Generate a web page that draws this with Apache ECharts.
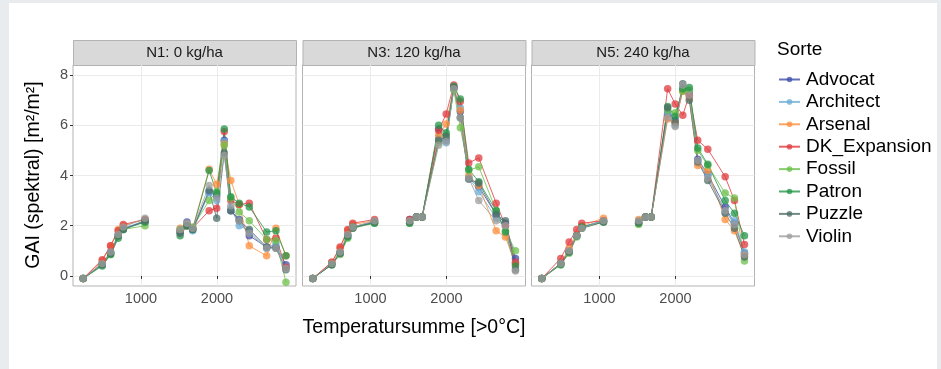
<!DOCTYPE html>
<html>
<head>
<meta charset="utf-8">
<script src="https://cdn.jsdelivr.net/npm/echarts@6/dist/echarts.min.js"></script>
<style>
  html, body { margin: 0; padding: 0; background: #e9ecef; }
  #sheet { position: absolute; left: 9px; top: 3px; width: 928px; height: 366px; background: #fff; }
  #chart { position: absolute; left: 0; top: 0; width: 941px; height: 369px; }
</style>
</head>
<body>
<div id="sheet"></div>
<div id="chart"></div>
<script>
// Temperatursumme der Termine
const tempSum = [240, 490, 600, 700, 767, 1053, 1515, 1605, 1680, 1897, 1996, 2096, 2182, 2293, 2425, 2654, 2776, 2908];
const sorten = ["Advocat", "Architect", "Arsenal", "DK_Expansion", "Fossil", "Patron", "Puzzle", "Violin"];
const colors = ["#3f4fa8", "#6baed6", "#fd8d3c", "#e0393e", "#6cc04a", "#24964a", "#4f6d68", "#9e9e9e"];
const panels = ["N1: 0 kg/ha", "N3: 120 kg/ha", "N5: 240 kg/ha"];
const xTicks = [1000, 2000];
const yTicks = [0, 2, 4, 6, 8];

// GAI-Werte je Stickstoffstufe, Reihenfolge wie sorten
const gaiN1 = [
  [-0.1, 0.5, 0.95, 1.6, 1.9, 2.15, 1.75, 2.15, 1.85, 3.35, 3.2, 5.4, 2.6, 2.25, 1.6, 1.15, 1.15, 0.45],
  [-0.1, 0.5, 0.9, 1.65, 1.9, 2.2, 1.8, 2.05, 1.8, 3.3, 3.0, 5.35, 2.7, 2.0, 1.8, 1.1, 1.3, 0.35],
  [-0.1, 0.6, 1.2, 1.85, 2.0, 2.25, 1.9, 2.05, 1.9, 4.25, 3.65, 5.25, 3.8, 2.85, 1.2, 0.8, 1.9, 0.8],
  [-0.1, 0.65, 1.2, 1.8, 2.05, 2.25, 1.8, 2.0, 1.9, 2.6, 2.7, 5.75, 3.0, 2.85, 2.9, 1.45, 1.5, 0.35],
  [-0.1, 0.45, 0.85, 1.6, 1.85, 2.0, 1.85, 2.0, 1.95, 3.0, 3.35, 5.2, 3.1, 2.55, 2.2, 1.45, 1.4, -0.25],
  [-0.1, 0.4, 0.85, 1.5, 1.85, 2.15, 1.6, 2.0, 1.85, 4.2, 3.3, 5.85, 3.15, 2.9, 2.75, 1.75, 1.8, 0.8],
  [-0.1, 0.45, 0.9, 1.6, 1.85, 2.2, 1.7, 2.0, 1.85, 3.4, 2.3, 4.9, 2.6, 2.2, 1.85, 1.15, 1.1, 0.25],
  [-0.1, 0.5, 0.95, 1.65, 1.95, 2.3, 1.85, 2.1, 1.9, 3.6, 3.1, 4.8, 2.8, 2.2, 1.7, 1.1, 1.1, 0.3]
];
const gaiN3 = [
  [-0.1, 0.5, 0.95, 1.65, 1.95, 2.15, 2.25, 2.35, 2.35, 5.85, 5.4, 7.5, 6.55, 3.9, 3.55, 2.45, 2.1, 0.7],
  [-0.1, 0.5, 0.9, 1.6, 1.95, 2.15, 2.2, 2.35, 2.35, 5.5, 5.3, 7.45, 6.7, 3.9, 3.35, 2.3, 2.0, 0.5],
  [-0.1, 0.55, 1.1, 1.8, 2.05, 2.2, 2.2, 2.35, 2.35, 5.6, 6.05, 7.5, 6.6, 4.0, 3.6, 1.8, 1.55, 0.45],
  [-0.1, 0.55, 1.15, 1.85, 2.1, 2.25, 2.25, 2.35, 2.35, 5.8, 6.45, 7.6, 6.95, 4.5, 4.7, 2.9, 2.0, 0.55],
  [-0.1, 0.45, 0.85, 1.5, 1.9, 2.1, 2.1, 2.35, 2.35, 5.3, 5.6, 7.4, 5.9, 4.2, 4.35, 2.6, 1.8, 1.0],
  [-0.1, 0.45, 0.9, 1.55, 1.95, 2.1, 2.1, 2.35, 2.35, 6.0, 5.7, 7.55, 7.05, 4.25, 3.75, 2.6, 1.75, 0.4],
  [-0.1, 0.45, 0.9, 1.6, 1.9, 2.15, 2.15, 2.35, 2.35, 5.4, 5.55, 7.5, 6.3, 3.85, 3.7, 2.45, 2.2, 0.25],
  [-0.1, 0.5, 0.95, 1.65, 1.95, 2.2, 2.2, 2.35, 2.35, 5.2, 5.35, 7.45, 6.3, 3.9, 3.0, 2.2, 2.0, 0.2]
];
const gaiN5 = [
  [-0.1, 0.5, 1.0, 1.6, 1.95, 2.2, 2.15, 2.35, 2.35, 6.45, 6.2, 7.4, 7.3, 4.65, 4.05, 2.75, 2.1, 0.9],
  [-0.1, 0.5, 1.0, 1.6, 1.95, 2.2, 2.2, 2.35, 2.35, 6.5, 6.0, 7.45, 7.35, 4.5, 4.0, 2.55, 2.2, 0.95],
  [-0.1, 0.5, 1.1, 1.65, 2.0, 2.3, 2.25, 2.35, 2.35, 6.25, 6.1, 7.35, 7.1, 4.4, 4.2, 2.25, 1.8, 0.8],
  [-0.1, 0.7, 1.35, 1.85, 2.1, 2.2, 2.1, 2.35, 2.35, 7.45, 6.85, 6.4, 7.2, 5.4, 5.05, 3.95, 3.0, 1.25],
  [-0.1, 0.45, 0.9, 1.55, 1.9, 2.15, 2.05, 2.35, 2.35, 6.6, 6.5, 7.35, 7.4, 5.0, 4.4, 3.3, 3.1, 0.6],
  [-0.1, 0.45, 0.95, 1.6, 1.95, 2.15, 2.1, 2.35, 2.35, 6.75, 6.35, 7.45, 7.5, 5.1, 4.45, 3.0, 2.5, 1.6],
  [-0.1, 0.5, 0.95, 1.6, 1.9, 2.15, 2.15, 2.35, 2.35, 6.7, 6.1, 7.65, 7.0, 4.55, 3.8, 2.5, 1.9, 0.75],
  [-0.1, 0.5, 1.0, 1.6, 1.9, 2.2, 2.2, 2.35, 2.35, 6.3, 5.95, 7.6, 7.2, 4.6, 3.9, 2.6, 2.05, 0.85]
];
const gaiAll = [gaiN1, gaiN3, gaiN5];

const chart = echarts.init(document.getElementById("chart"));

// Panel-Geometrie
const gridLeft = [73, 302.5, 531.5];
const gridWidth = 223;
const gridTop = 65;
const gridHeight = 221;
const stripH = 25;

const grids = [], xAxes = [], yAxes = [], series = [], graphics = [];
panels.forEach((title, p) => {
  grids.push({
    left: gridLeft[p], top: gridTop, width: gridWidth, height: gridHeight,
    show: true, borderColor: "#b3b3b3", borderWidth: 1, backgroundColor: "transparent"
  });
  xAxes.push({
    type: "value", gridIndex: p, min: 105, max: 3040,
    axisLine: { show: false },
    axisTick: { show: true, length: 3, lineStyle: { color: "#333" }, customValues: xTicks },
    axisLabel: { color: "#4d4d4d", fontSize: 14.5, fontFamily: "Liberation Sans", margin: 5,
      customValues: xTicks, formatter: (v) => String(v) },
    splitLine: { show: true, lineStyle: { color: "#ebebeb", width: 1 } }
  });
  yAxes.push({
    type: "value", gridIndex: p, min: -0.4, max: 8.4,
    axisLine: { show: false },
    axisTick: { show: p === 0, length: 3, lineStyle: { color: "#333" }, customValues: yTicks },
    axisLabel: { show: p === 0, color: "#4d4d4d", fontSize: 14.5, fontFamily: "Liberation Sans", margin: 5,
      customValues: yTicks, formatter: (v) => String(v) },
    splitLine: { show: true, lineStyle: { color: "#ebebeb", width: 1 } }
  });
  graphics.push({
    type: "rect", left: gridLeft[p], top: gridTop - stripH,
    shape: { width: gridWidth, height: stripH },
    style: { fill: "#d9d9d9", stroke: "#b3b3b3", lineWidth: 1 }
  });
  graphics.push({
    type: "text", x: gridLeft[p] + gridWidth / 2, y: gridTop - stripH / 2,
    style: { text: title, fill: "#1a1a1a", font: "15px Liberation Sans", align: "center", verticalAlign: "middle" }
  });
  sorten.forEach((name, s) => {
    const vals = gaiAll[p][s];
    const data = [];
    tempSum.forEach((t, i) => {
      // Lücke zwischen Herbst- und Frühjahrsterminen
      if (i === 6) data.push([1300, "-"]);
      data.push([t, vals[i]]);
    });
    series.push({
      name, type: "line", xAxisIndex: p, yAxisIndex: p, data,
      symbol: "circle", symbolSize: 7.5, connectNulls: false,
      itemStyle: { color: colors[s], opacity: 0.75 },
      lineStyle: { color: colors[s], width: 1, opacity: 0.8 },
      emphasis: { disabled: true }, animation: false
    });
  });
});

graphics.push({
  type: "text", x: 34, y: 175, rotation: Math.PI / 2,
  style: { text: "GAI (spektral) [m²/m²]", fill: "#000", font: "19.5px Liberation Sans", align: "center", verticalAlign: "middle" }
});
graphics.push({
  type: "text", x: 414, y: 328,
  style: { text: "Temperatursumme [>0°C]", fill: "#000", font: "19.5px Liberation Sans", align: "center", verticalAlign: "middle" }
});
graphics.push({
  type: "text", x: 777, y: 50,
  style: { text: "Sorte", fill: "#000", font: "19px Liberation Sans", align: "left", verticalAlign: "middle" }
});

chart.setOption({
  animation: false,
  grid: grids,
  xAxis: xAxes,
  yAxis: yAxes,
  series,
  graphic: graphics,
  legend: {
    data: sorten, orient: "vertical", left: 773, top: 65,
    itemWidth: 21, itemHeight: 7, itemGap: 3.4,
    textStyle: { color: "#000", fontSize: 19, fontFamily: "Liberation Sans", padding: [0, 0, 0, 1] },
    selectedMode: false
  }
});
</script>
</body>
</html>
